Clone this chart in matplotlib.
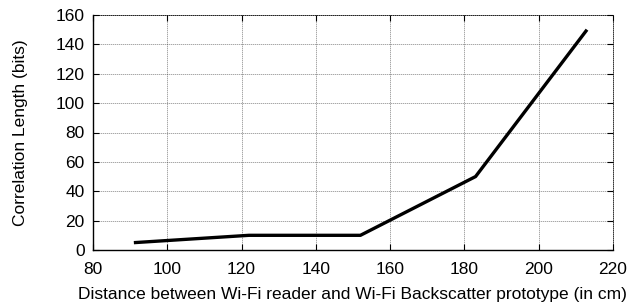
import matplotlib
matplotlib.use('Agg')
from matplotlib import pyplot as plt

plt.rcParams['font.family'] = ['Liberation Sans', 'DejaVu Sans']

distance = [91, 122, 152, 183, 213]
corr_len = [5, 10, 10, 50, 150]
xticks = [80, 100, 120, 140, 160, 180, 200, 220]
yticks = [0, 20, 40, 60, 80, 100, 120, 140, 160]

fig = plt.figure(figsize=(6.43, 3.06), dpi=100)
ax = fig.add_axes([93 / 643, 1 - 250 / 306, 520 / 643, 235 / 306])

ax.plot(distance, corr_len, color='black', linewidth=2.4, solid_capstyle='butt', zorder=3)

ax.set_xlim(80, 220)
ax.set_ylim(0, 160)
ax.set_xticks(xticks)
ax.set_yticks(yticks)
dots = (0, (0.8, 1.6))
ax.grid(color='#333333', linestyle=dots, linewidth=0.6, zorder=1)
ax.tick_params(direction='in', length=4, width=0.8, top=True, right=True,
               labelsize=12.5)
ax.tick_params(axis='y', pad=6)
ax.tick_params(axis='x', pad=9)
ax.spines['top'].set_linestyle(dots)
ax.spines['right'].set_linestyle(dots)
ax.spines['top'].set_linewidth(0.6)
ax.spines['right'].set_linewidth(0.6)
ax.spines['left'].set_linewidth(1.0)
ax.spines['bottom'].set_linewidth(1.0)

ax.set_xlabel('Distance between Wi-Fi reader and Wi-Fi Backscatter prototype (in cm)', fontsize=12.5)
ax.set_ylabel('Correlation Length (bits)', fontsize=12.5)
ax.xaxis.set_label_coords((352 - 93) / 520, -(294 - 250) / 235)
ax.yaxis.set_label_coords(-(93 - 20) / 520, 0.5)
ax.xaxis.label.set_va('center')
ax.yaxis.label.set_va('center')

plt.savefig('out.png', dpi=100)
